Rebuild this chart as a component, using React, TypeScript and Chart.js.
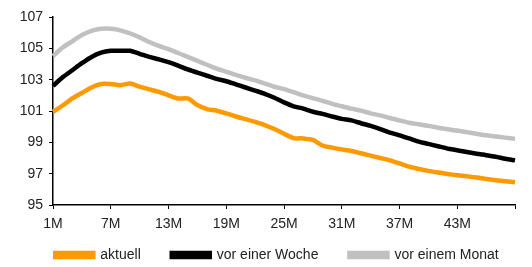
import React, { useEffect, useRef } from "react";
import { Chart, registerables } from "chart.js";

Chart.register(...registerables);

const months: string[] = Array.from({ length: 49 }, (_, i) => `${i + 1}M`);

const aktuell: number[] = [
  100.95, 101.35, 101.8, 102.15, 102.5, 102.72, 102.72, 102.65, 102.75, 102.55,
  102.38, 102.22, 102.0, 101.8, 101.8, 101.38, 101.12, 101.02, 100.85, 100.65,
  100.48, 100.3, 100.1, 99.85, 99.55, 99.27, 99.25, 99.15, 98.8, 98.66,
  98.55, 98.45, 98.3, 98.15, 98.0, 97.85, 97.65, 97.45, 97.3, 97.18,
  97.07, 96.98, 96.9, 96.83, 96.76, 96.66, 96.58, 96.51, 96.45,
];

const vorEinerWoche: number[] = [
  102.6, 103.15, 103.6, 104.05, 104.45, 104.72, 104.84, 104.85, 104.84, 104.65,
  104.45, 104.3, 104.12, 103.9, 103.65, 103.45, 103.25, 103.05, 102.9, 102.7,
  102.5, 102.3, 102.1, 101.85, 101.55, 101.3, 101.15, 100.95, 100.82, 100.65,
  100.5, 100.4, 100.22, 100.05, 99.85, 99.62, 99.45, 99.25, 99.05, 98.9,
  98.75, 98.6, 98.5, 98.38, 98.27, 98.18, 98.08, 97.95, 97.85,
];

const vorEinemMonat: number[] = [
  104.5, 105.05, 105.45, 105.85, 106.12, 106.25, 106.25, 106.15, 105.95, 105.7,
  105.4, 105.15, 104.95, 104.7, 104.45, 104.2, 103.95, 103.7, 103.5, 103.3,
  103.12, 102.95, 102.75, 102.55, 102.4, 102.2, 102.0, 101.82, 101.65, 101.45,
  101.3, 101.15, 101.02, 100.85, 100.72, 100.55, 100.4, 100.25, 100.15, 100.05,
  99.93, 99.83, 99.75, 99.65, 99.55, 99.45, 99.37, 99.3, 99.22,
];

const seriesNames: string[] = ["aktuell", "vor einer Woche", "vor einem Monat"];
const seriesColors: string[] = ["#FF9900", "#000000", "#C0C0C0"];

const legendShift = {
  id: "legendShift",
  afterLayout(chart: any) {
    const l = chart.legend;
    if (!l) return;
    const dy = 217 - l.top;
    l.top += dy;
    l.bottom += dy;
    l.left += 11;
    l.right += 11;
  },
};

export default function App() {
  const ref = useRef<HTMLCanvasElement | null>(null);

  useEffect(() => {
    document.body.style.margin = "0";
    const canvas = ref.current;
    if (!canvas) return;
    const font = "'Liberation Sans', Arial, sans-serif";
    const chart = new Chart(canvas, {
      type: "line",
      data: {
        labels: months,
        datasets: [aktuell, vorEinerWoche, vorEinemMonat].map((d, i) => ({
          label: seriesNames[i],
          data: d,
          borderColor: seriesColors[i],
          backgroundColor: seriesColors[i],
          borderWidth: 4.5,
          pointRadius: 0,
          tension: 0.25,
          fill: false,
          yAxisID: "y",
        })),
      },
      options: {
        responsive: false,
        animation: false,
        layout: { padding: { left: 0, right: 0, top: 17, bottom: -21 } },
        plugins: {
          tooltip: { enabled: false },
          legend: {
            position: "bottom",
            labels: {
              boxWidth: 38,
              boxHeight: 4,
              padding: 31,
              color: "#222",
              font: { family: font, size: 14 },
            },
          },
        },
        scales: {
          x: {
            type: "category",
            offset: false,
            afterFit: (s: any) => {
              s.height = 28;
            },
            border: { color: "#000", width: 1.5 },
            grid: {
              drawOnChartArea: false,
              drawTicks: true,
              tickLength: 4,
              color: (ctx: any) => (ctx.index % 6 === 0 ? "#000" : "rgba(0,0,0,0)"),
            },
            ticks: {
              autoSkip: false,
              maxRotation: 0,
              minRotation: 0,
              padding: 7,
              color: "#222",
              font: { family: font, size: 14 },
              callback: (_v: any, i: number) => (i % 6 === 0 && i < 48 ? months[i] : ""),
            },
          },
          y: {
            min: 95,
            max: 107,
            position: "left",
            afterFit: (s: any) => {
              s.width = 53;
            },
            border: { color: "#000", width: 1.5 },
            grid: {
              drawOnChartArea: false,
              drawTicks: true,
              tickLength: 4,
              color: "#000",
            },
            ticks: {
              stepSize: 2,
              padding: 6,
              color: "#222",
              font: { family: font, size: 14 },
            },
          },
          yRight: {
            position: "right",
            afterFit: (s: any) => {
              s.width = 17;
            },
            border: { display: false },
            grid: { display: false },
            ticks: { display: false },
          },
        },
      },
      plugins: [legendShift],
    });
    return () => chart.destroy();
  }, []);

  return <canvas ref={ref} width={532} height={267} style={{ display: "block" }} />;
}
